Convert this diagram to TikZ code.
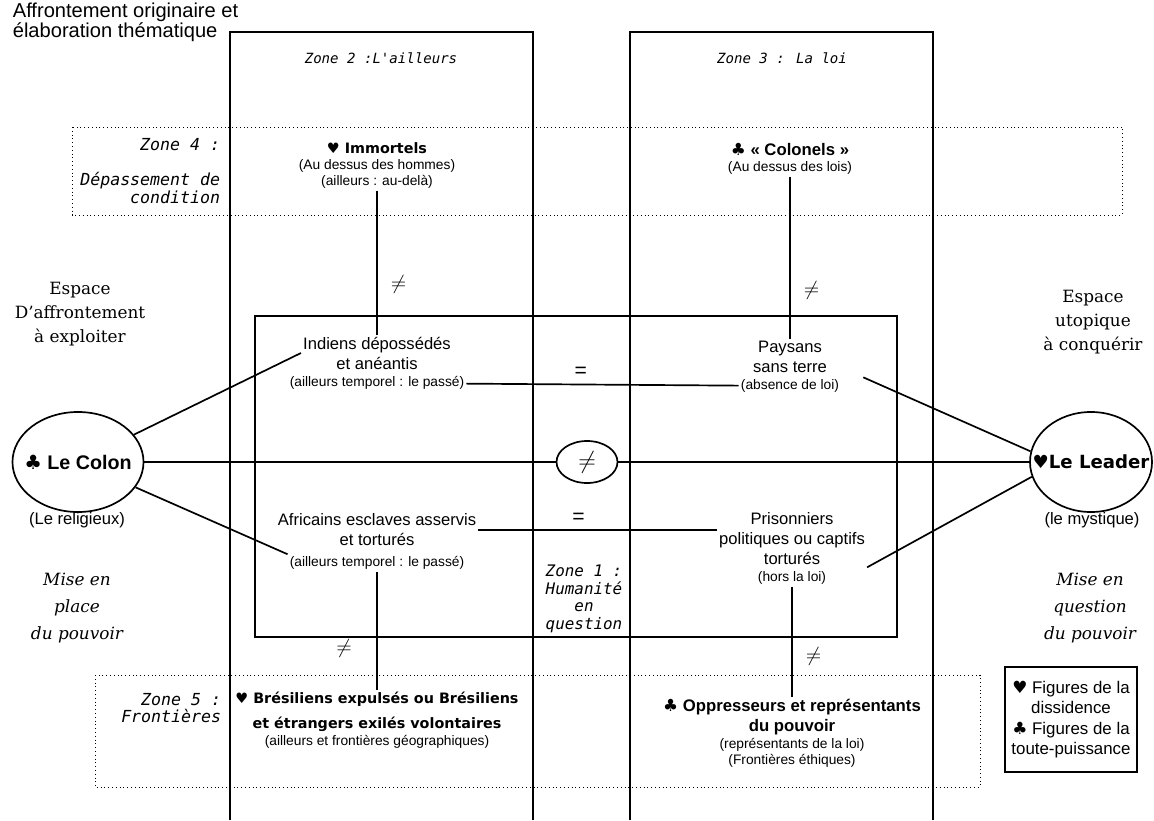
\documentclass[tikz,border=0pt]{standalone}
\usepackage{fontspec}
\setmainfont{Liberation Sans}
\newfontfamily\comicfont{DejaVu Sans}
\newfontfamily\zonefont{DejaVu Sans Mono Oblique}
\newfontfamily\espfont{DejaVu Serif}
\newcommand{\coeur}{{\comicfont ♥}}
\newcommand{\trefle}{{\comicfont ♣}}
\usetikzlibrary{shapes.geometric}

\begin{document}
\begin{tikzpicture}[x=0.025cm,y=-0.025cm,line width=1.2pt,
    txt/.style={align=center,inner sep=1pt,font=\fontsize{11.8}{14.2}\selectfont},
    sub/.style={align=center,inner sep=1pt,font=\fontsize{9.8}{11.2}\selectfont},
    titre/.style={align=center,inner sep=1pt,font=\comicfont\bfseries\fontsize{10.2}{17.5}\selectfont},
    titrea/.style={align=center,inner sep=1pt,font=\bfseries\fontsize{11.9}{14.4}\selectfont},
    zone/.style={inner sep=0pt,font=\zonefont\fontsize{11.8}{12.4}\selectfont},
    espace/.style={align=center,font=\espfont\fontsize{12}{17}\selectfont},
    pouvoir/.style={align=center,font=\espfont\itshape\fontsize{12}{19.5}\selectfont},
    pole/.style={draw,ellipse,inner sep=0pt,minimum height=2.5cm},
    signe/.style={font=\fontsize{15}{17}\selectfont},
    zoneline/.style={dotted,line width=0.7pt}]
    \useasboundingbox (0,0) rectangle (1154,820);

    \draw (230,820) |- (533,32) -- (533,820);
    \draw (630,820) |- (933,32) -- (933,820);
    \draw (255,316) rectangle (897,637);
    \draw[zoneline] (72,127) rectangle (1122,215);
    \draw[zoneline] (95,675) rectangle (980,787);

    \node[anchor=north west,align=left,inner sep=0pt,
        font=\fontsize{14.3}{12.6}\selectfont] (titre) at (12,2)
        {\lineskiplimit-20pt Affrontement originaire et\\élaboration thématique};
    \node[zone,font=\zonefont\fontsize{10}{12.4}\selectfont] (zdeux) at (381,58) {Zone 2 :L'ailleurs};
    \node[zone,font=\zonefont\fontsize{10}{12.4}\selectfont] (ztrois) at (782,58) {Zone 3 : La loi};
    \node[zone,anchor=east] (zquatre) at (221,145) {Zone 4 :};
    \node[zone,anchor=east,align=right] (zquatreb) at (221,188) {Dépassement de\\condition};
    \node[zone,anchor=east,align=right] (zcinq) at (222,708) {Zone 5 :\\Frontières};
    \node[zone,align=center,font=\zonefont\fontsize{11.3}{12.4}\selectfont] (zun) at (584,599)
        {Zone 1 :\\Humanité\\en\\question};

    \node[titre] (immortels) at (377,148) {\coeur{} Immortels};
    \node[sub] (immsub) at (377,174) {(Au dessus des hommes)\\(ailleurs : au-delà)};
    \node[titrea] (colonels) at (790,149) {\trefle{} « Colonels »};
    \node[sub] (colsub) at (790,168) {(Au dessus des lois)};
    \node[txt] (indiens) at (377,353) {Indiens dépossédés\\et anéantis};
    \node[sub] (indsub) at (377,383) {(ailleurs temporel : le passé)};
    \node[txt] (paysans) at (790,357) {Paysans\\sans terre};
    \node[sub] (paysub) at (790,386) {(absence de loi)};
    \node[txt] (africains) at (377,530) {Africains esclaves asservis\\et torturés};
    \node[sub] (afrsub) at (377,563) {(ailleurs temporel : le passé)};
    \node[txt] (prisonniers) at (792,539) {Prisonniers\\politiques ou captifs\\torturés};
    \node[sub] (prisub) at (792,578) {(hors la loi)};
    \node[titre] (bresiliens) at (377,712) {\coeur{} Brésiliens expulsés ou Brésiliens\\et étrangers exilés volontaires};
    \node[sub] (bressub) at (377,742) {(ailleurs et frontières géographiques)};
    \node[titrea] (oppresseurs) at (792,717) {\trefle{} Oppresseurs et représentants\\du pouvoir};
    \node[sub] (oppsub) at (792,753) {(représentants de la loi)\\(Frontières éthiques)};

    \node[pole,minimum width=3.275cm,font=\bfseries\fontsize{14}{16}\selectfont] (colon) at (78,462)
        {\makebox[0pt]{\trefle{} Le Colon}};
    \node[pole,minimum width=3.05cm,font=\comicfont\bfseries\fontsize{12.9}{15}\selectfont] (leader) at (1091,462)
        {\makebox[0pt]{\coeur Le Leader}};
    \node[draw,ellipse,inner sep=0pt,minimum width=1.525cm,minimum height=1.05cm,
        font=\fontsize{17}{19}\selectfont] (neq) at (587,462) {\makebox[0pt]{$\neq$}};

    \node[espace] (espgauche) at (80,314) {Espace\\D’affrontement\\à exploiter};
    \node[txt] (religieux) at (77,520) {(Le religieux)};
    \node[pouvoir] (miseplace) at (77,608) {Mise en\\place\\du pouvoir};
    \node[espace] (espdroite) at (1093,322) {Espace\\utopique\\à conquérir};
    \node[txt] (mystique) at (1092,520) {(le mystique)};
    \node[pouvoir] (misequestion) at (1090,608) {Mise en\\question\\du pouvoir};
    \node[draw,align=center,inner sep=0pt,minimum width=3.3cm,minimum height=2.625cm,
        font=\fontsize{12}{14.6}\selectfont] (legende) at (1071,719.5)
        {\coeur{} Figures de la\\dissidence\\\trefle{} Figures de la\\toute-puissance};

    \draw (colon) -- (neq) -- (leader);
    \draw (colon) -- (indiens.west);
    \draw (colon) -- (afrsub.north west);
    \draw (paysub.north east) ++(22,0) -- (leader.170);
    \draw (prisonniers.south east) -- (leader.194);
    \draw (indsub) -- (paysub) node[pos=.42,above=1pt,signe] {=};
    \draw (africains.east) -- (africains.east -| prisonniers.west)
        node[pos=.42,above=1pt,signe] {=};
    \draw (immsub) -- (indiens) node[pos=.65,right=6pt,signe] {$\neq$};
    \draw (colsub) -- (paysans) node[pos=.7,right=6pt,signe] {$\neq$};
    \draw (afrsub) -- (bresiliens) node[pos=.65,left=14pt,signe] {$\neq$};
    \draw (prisub) -- (oppresseurs) node[pos=.63,right=6pt,signe] {$\neq$};
\end{tikzpicture}
\end{document}
